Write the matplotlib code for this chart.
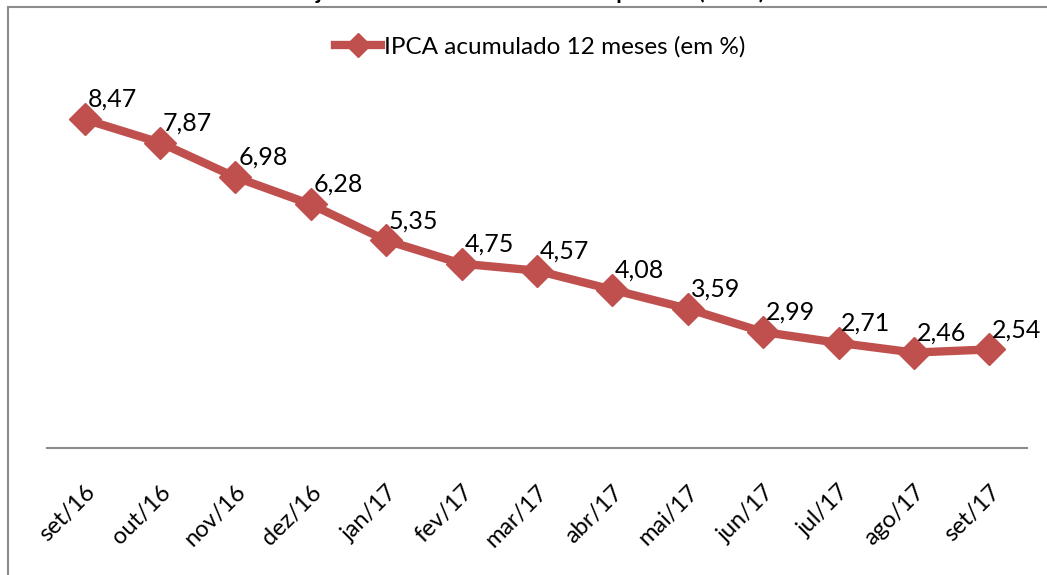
import matplotlib
matplotlib.use('Agg')
import matplotlib.pyplot as plt
from matplotlib.lines import Line2D

plt.rcParams['font.family'] = ['Lato', 'DejaVu Sans']

# dados
meses = ['set/16', 'out/16', 'nov/16', 'dez/16', 'jan/17', 'fev/17', 'mar/17',
         'abr/17', 'mai/17', 'jun/17', 'jul/17', 'ago/17', 'set/17']
ipca_12m = [8.47, 7.87, 6.98, 6.28, 5.35, 4.75, 4.57, 4.08, 3.59, 2.99, 2.71, 2.46, 2.54]
serie = 'IPCA acumulado 12 meses (em %)'
titulo = 'Trajetória do IPCA acumulado no período (em %)'

cor = '#C0504D'
W, H = 1047, 575

fig = plt.figure(figsize=(W / 100, H / 100), dpi=100)
ax = fig.add_axes([47 / W, 1 - 448 / H, (1027 - 47) / W, (448 - 60) / H])

x = range(len(meses))
ax.plot(x, ipca_12m, color=cor, lw=6, marker='D', ms=16, mec=cor, mfc=cor,
        label=serie, solid_joinstyle='round')

for i, v in enumerate(ipca_12m):
    ax.annotate(f'{v:.2f}'.replace('.', ','), (i, v), xytext=(2, 6),
                textcoords='offset points', ha='left', va='bottom', fontsize=18)

ax.set_xlim(-0.5, len(meses) - 0.5)
ax.set_ylim(0, 10)
ax.set_xticks(list(x))
ax.set_xticklabels(meses, rotation=45, ha='right', va='top', rotation_mode='anchor', fontsize=17)
ax.tick_params(axis='x', length=0, pad=24)
ax.set_yticks([])
for s in ['top', 'left', 'right']:
    ax.spines[s].set_visible(False)
ax.spines['bottom'].set_color('#8c8c8c')
ax.spines['bottom'].set_linewidth(1.5)

leg = fig.legend(loc='center', bbox_to_anchor=(540 / W, 1 - 47 / H), frameon=False,
                 fontsize=17.5, handlelength=1.9, handletextpad=0.1, markerscale=0.75)

# borda do gráfico
fig.add_artist(Line2D([8 / W, 1.0], [1 - 7 / H, 1 - 7 / H], color='#8c8c8c', lw=1.5))
fig.add_artist(Line2D([8 / W, 8 / W], [0, 1 - 7 / H], color='#8c8c8c', lw=1.5))

# título cortado no topo
fig.text(0.5, 1 + 1 / H, titulo, ha='center', va='baseline', fontsize=16, fontweight='bold')

fig.savefig('out.png', dpi=100)
